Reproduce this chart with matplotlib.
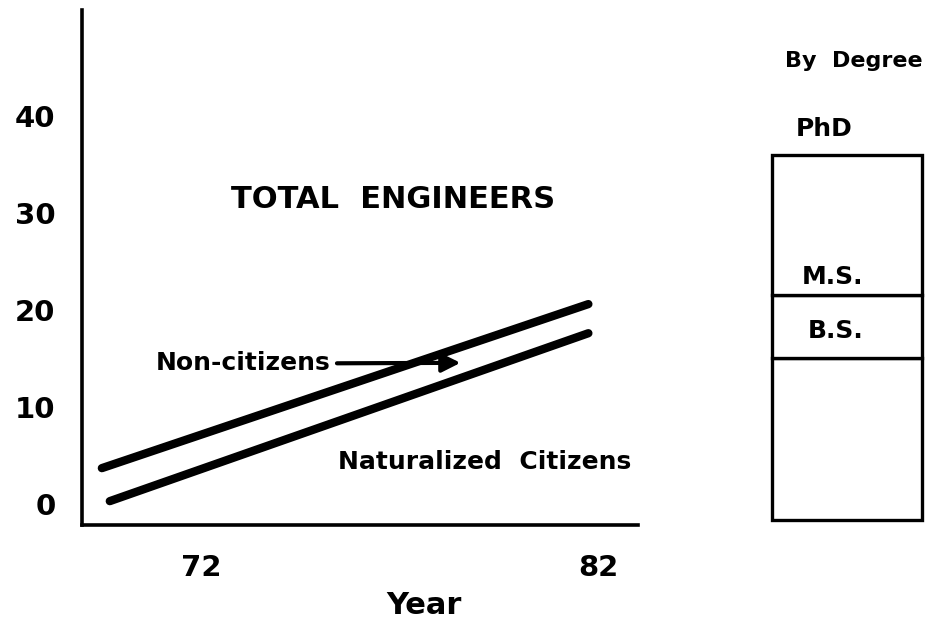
import matplotlib.pyplot as plt

# data
years = [69.5, 81.75]
total = [3.7, 20.6]
naturalized_years = [69.7, 81.75]
naturalized = [0.3, 17.6]
xtick_vals = [72, 82]
ytick_vals = [0, 10, 20, 30, 40]

degrees = ['B.S.', 'M.S.', 'PhD']
degree_share = [44.4, 17.3, 38.3]

plt.rcParams['font.family'] = ['DejaVu Sans']
plt.rcParams['font.weight'] = 'bold'

fig = plt.figure(figsize=(9.34, 6.37), dpi=100)

ax = fig.add_axes([0.0878, 0.1758, 0.5953, 0.8085])
ax.plot(years, total, color='black', lw=6, solid_capstyle='round')
ax.plot(naturalized_years, naturalized, color='black', lw=6,
        solid_capstyle='round')
ax.set_xlim(69.0, 83.0)
ax.set_ylim(-2.16, 50.9)
for s in ['top', 'right']:
    ax.spines[s].set_visible(False)
for s in ['left', 'bottom']:
    ax.spines[s].set_linewidth(2.6)
ax.set_xticks(xtick_vals)
ax.set_xticklabels([str(v) for v in xtick_vals], fontsize=21, fontweight='bold')
ax.set_yticks(ytick_vals)
ax.set_yticklabels([str(v) for v in ytick_vals], fontsize=21, fontweight='bold')
ax.tick_params(axis='x', length=0, pad=21)
ax.tick_params(axis='y', length=0, pad=19)

ax.text(76.82, 31.4, 'TOTAL  ENGINEERS', fontsize=22, fontweight='bold',
        ha='center', va='center')
ax.text(75.26, 14.5, 'Non-citizens', fontsize=18, fontweight='bold',
        ha='right', va='center')
ax.annotate('', xy=(78.6, 14.55), xytext=(75.35, 14.5),
            arrowprops=dict(arrowstyle='-|>', color='black', lw=3,
                            mutation_scale=28))
ax.text(79.15, 4.3, 'Naturalized  Citizens', fontsize=18, fontweight='bold',
        ha='center', va='center')
fig.text(424 / 934, 1 - 605 / 637, 'Year', fontsize=22, fontweight='bold',
         ha='center', va='center')

# stacked degree box
ax2 = fig.add_axes([0.8266, 0.1837, 0.1606, 0.573])
bottom = 0
for name, share in zip(degrees, degree_share):
    ax2.bar(0.5, share, width=1.0, bottom=bottom, color='white',
            edgecolor='black', lw=2.4, clip_on=False)
    bottom += share
ax2.set_xlim(0, 1)
ax2.set_ylim(0, 100)
ax2.axis('off')

label_pos = {'B.S.': (0.427, 51.8), 'M.S.': (0.40, 66.6), 'PhD': (0.35, 107.1)}
for name in degrees:
    x, y = label_pos[name]
    ax2.text(x, y, name, fontsize=18, fontweight='bold', ha='center',
             va='center', clip_on=False)
ax2.text(0.543, 125.8, 'By  Degree', fontsize=16, fontweight='bold',
         ha='center', va='center', clip_on=False)

fig.savefig('out.png', dpi=100)
